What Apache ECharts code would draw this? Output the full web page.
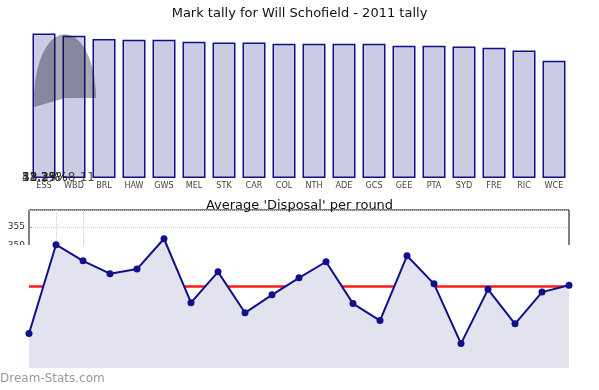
<!DOCTYPE html>
<html><head><meta charset="utf-8">
<script src="https://cdn.jsdelivr.net/npm/echarts@6/dist/echarts.min.js"></script>
<style>html,body{margin:0;padding:0;background:#fff}#c{width:599px;height:390px}</style>
</head><body><div id="c"></div>
<script>
// ---- data ----
const teams = ['ESS','WBD','BRL','HAW','GWS','MEL','STK','CAR','COL','NTH','ADE','GCS','GEE','PTA','SYD','FRE','RIC','WCE'];
const tally = [36.6,36.0,35.2,35.0,35.0,34.5,34.3,34.3,34.0,34.0,34.0,34.0,33.5,33.5,33.3,33.0,32.3,29.7];
const rounds = ['R1','R2','R3','R4','R5','R6','R7','R8','R9','R10','R11','R12','R13','R14','R15','R16','R17','R18','R19','R20','R21'];
const disposals = [7.5,26.8,23.3,20.5,21.5,28.1,14.2,20.9,12.0,15.9,19.6,23.1,14.0,10.3,24.4,18.3,5.3,17.1,9.6,16.5,18.0];
const disposalAvg = 17.7;
const overlapLabels = ['51.27%','43.2%','38.1%','12.35%8-11'];
const titleTop = 'Mark tally for Will Schofield - 2011 tally';
const titleBottom = "Average 'Disposal' per round";
const watermark = 'Dream-Stats.com';

const navy = '#10108a';
const font = 'DejaVu Sans';
const chart = echarts.init(document.getElementById('c'), null, {renderer:'canvas'});

const graphics = [
  {type:'rect', z:5, shape:{x:0,y:245,width:599,height:145}, style:{fill:'#fff'}},
  {type:'sector', z:20, x:65, y:98, scaleY:2.06,
   shape:{cx:0,cy:0,r:31,r0:0,startAngle:3.0,endAngle:Math.PI*2,clockwise:true},
   style:{fill:'rgba(10,10,40,0.36)'}},
  {type:'text', z:20, left:0, top:373, style:{text:watermark, fill:'#999', font:'12px "DejaVu Sans"'}}
];
overlapLabels.forEach(t => graphics.push({type:'text', z:20, left:22, top:172,
  style:{text:t, fill:'#222', font:'12px "DejaVu Sans"', opacity:0.8}}));

chart.setOption({
  animation:false,
  backgroundColor:'#fff',
  title:[
    {text:titleTop, left:'center', top:2, textStyle:{fontFamily:font,fontSize:13,fontWeight:'normal',color:'#111'}},
    {text:titleBottom, left:'center', top:194, textStyle:{fontFamily:font,fontSize:13,fontWeight:'normal',color:'#111'}}
  ],
  grid:[
    {left:29, right:30, top:20, bottom:212},
    {left:29, right:30, top:210, bottom:30, show:true, borderColor:'#000', borderWidth:1, backgroundColor:'transparent'},
    {left:29, right:30, top:230, bottom:22}
  ],
  xAxis:[
    {gridIndex:0, type:'category', data:teams, z:3,
     axisLine:{show:false}, axisTick:{inside:true, length:3, alignWithLabel:true, lineStyle:{color:'#999'}},
     axisLabel:{fontFamily:'DejaVu Sans Condensed', fontSize:9, color:'#444', margin:3}},
    {gridIndex:0, type:'category', data:teams, position:'top', z:3,
     axisLine:{show:false}, axisTick:{inside:true, length:3, alignWithLabel:true, lineStyle:{color:'#aaa'}},
     axisLabel:{show:false}},
    {gridIndex:1, type:'category', data:rounds, boundaryGap:false, position:'top',
     axisLine:{show:false}, axisTick:{show:false}, axisLabel:{show:false},
     splitLine:{show:true, interval:(i)=> i===1||i===2, lineStyle:{color:'#ccc', type:'dotted'}}},
    {gridIndex:2, type:'category', data:rounds, boundaryGap:false, show:false}
  ],
  yAxis:[
    {gridIndex:0, type:'value', min:0, max:40, show:false},
    {gridIndex:1, type:'value', min:320, max:359.5, interval:5,
     axisLine:{show:false}, axisTick:{show:true, inside:true, length:3, lineStyle:{color:'#999'}},
     axisLabel:{fontFamily:font, fontSize:9, color:'#333', margin:4, showMaxLabel:false},
     splitLine:{show:true, lineStyle:{color:'#ccc', type:'dotted'}}},
    {gridIndex:2, type:'value', min:0, max:30, show:false}
  ],
  series:[
    {type:'bar', xAxisIndex:0, yAxisIndex:0, data:tally, barWidth:23,
     itemStyle:{color:'#cbcbe3', borderColor:navy, borderWidth:1.5}},
    {type:'line', xAxisIndex:3, yAxisIndex:2, data:disposals, z:8,
     symbol:'circle', symbolSize:7, showSymbol:true,
     lineStyle:{color:navy, width:2}, itemStyle:{color:navy},
     areaStyle:{color:'#e3e3f0', opacity:1},
     markLine:{silent:true, symbol:'none', label:{show:false},
       lineStyle:{color:'#ff1a1a', width:2.5, type:'solid'},
       data:[{yAxis:disposalAvg}]}}
  ],
  graphic:graphics
});
</script></body></html>
